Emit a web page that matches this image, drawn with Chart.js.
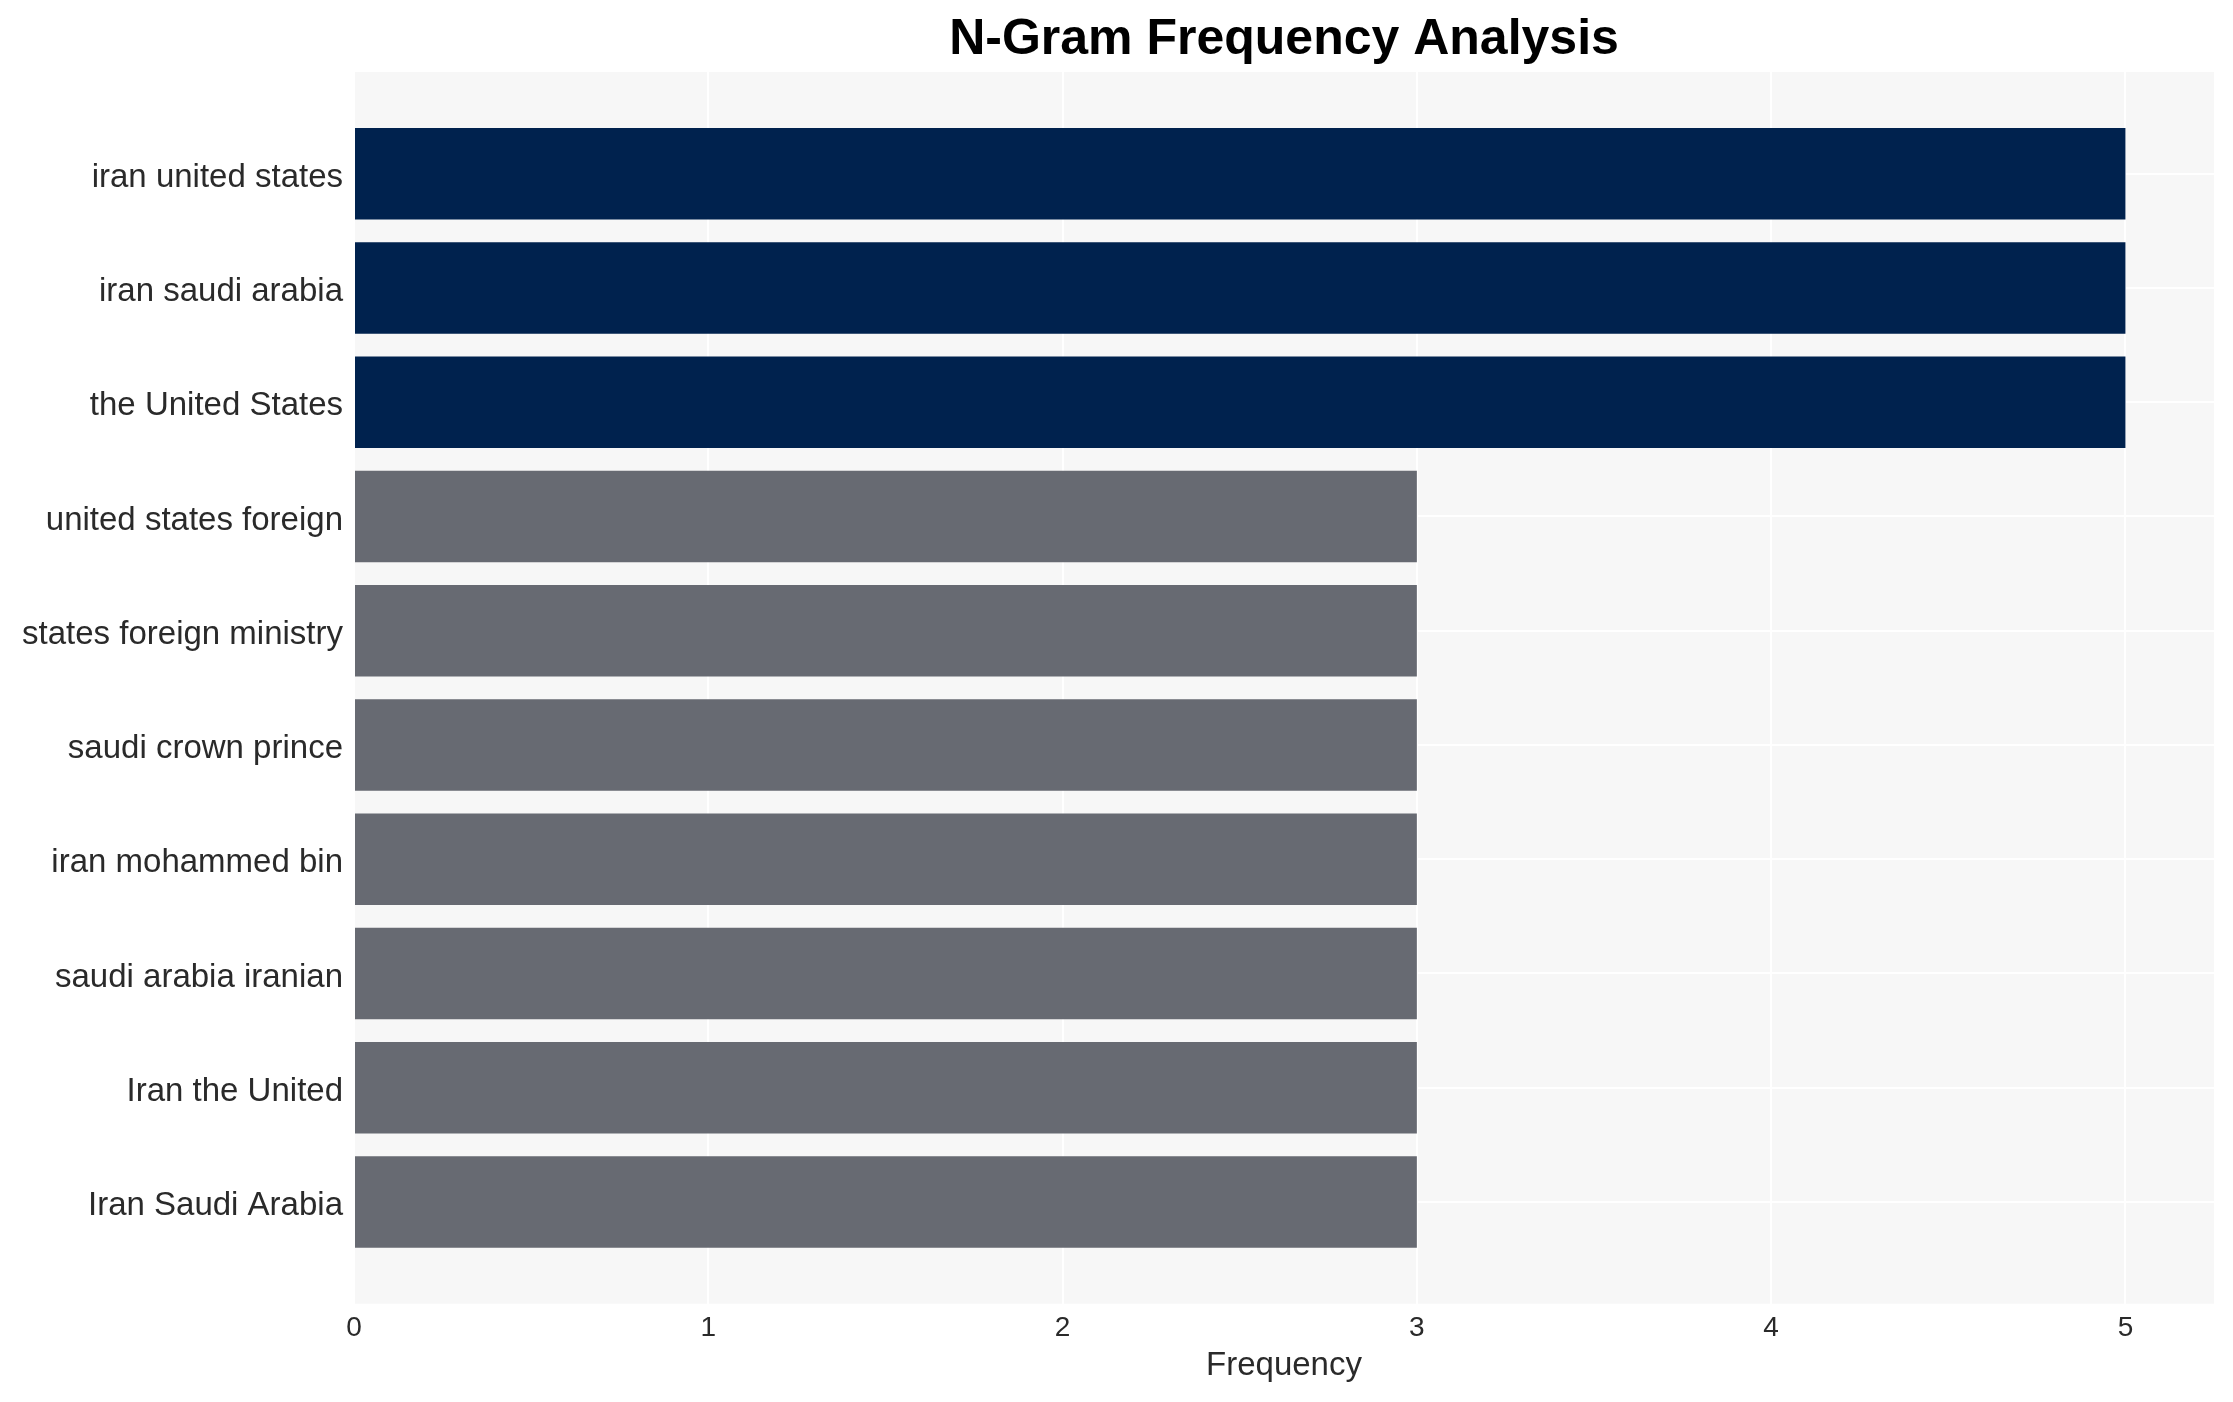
<!DOCTYPE html>
<html>
<head>
<meta charset="utf-8">
<script src="https://cdn.jsdelivr.net/npm/chart.js@4/dist/chart.umd.min.js"></script>
<style>
  html, body { margin: 0; padding: 0; background: #ffffff; }
  #wrap { width: 2233px; height: 1402px; }
  canvas { display: block; }
</style>
</head>
<body>
<div id="wrap"><canvas id="c" width="2233" height="1402"></canvas></div>
<script>
const categories = [
  "iran united states",
  "iran saudi arabia",
  "the United States",
  "united states foreign",
  "states foreign ministry",
  "saudi crown prince",
  "iran mohammed bin",
  "saudi arabia iranian",
  "Iran the United",
  "Iran Saudi Arabia"
];
const frequencies = [5, 5, 5, 3, 3, 3, 3, 3, 3, 3];
const xTickValues = [0, 1, 2, 3, 4, 5];

const FONT = "'Liberation Sans', Arial, Helvetica, sans-serif";
const NAVY = "#00224e";
const GRAY = "#676a72";
const maxFreq = Math.max(...frequencies);

const plotBg = {
  id: 'plotBg',
  beforeDraw(chart) {
    const {ctx, chartArea: a} = chart;
    ctx.save();
    ctx.fillStyle = '#f7f7f7';
    ctx.fillRect(a.left, a.top, a.right - a.left, a.bottom - a.top);
    ctx.restore();
  }
};

new Chart(document.getElementById('c'), {
  type: 'bar',
  data: {
    datasets: [{
      data: categories.map((c, i) => ({ x: frequencies[i], y: i })),
      backgroundColor: ctx => (ctx.raw && ctx.raw.x === maxFreq) ? NAVY : GRAY,
      borderWidth: 0,
      barPercentage: 0.8,
      categoryPercentage: 1.0
    }]
  },
  options: {
    indexAxis: 'y',
    responsive: false,
    devicePixelRatio: 1,
    animation: false,
    layout: { padding: { left: 0, right: 19, top: 0, bottom: 0 } },
    plugins: {
      legend: { display: false },
      tooltip: { enabled: false },
      title: {
        display: true,
        fullSize: false,
        text: 'N-Gram Frequency Analysis',
        color: '#000000',
        font: { family: FONT, size: 50, weight: 'bold', lineHeight: 1.2 },
        padding: { top: 10, bottom: 2 }
      }
    },
    scales: {
      x: {
        type: 'linear',
        position: 'bottom',
        min: 0,
        max: 5.25,
        offset: false,
        ticks: {
          stepSize: 1,
          color: '#2a2a2a',
          font: { family: FONT, size: 28 },
          padding: 8,
          maxRotation: 0
        },
        afterBuildTicks(scale) {
          scale.ticks = xTickValues.map(v => ({ value: v }));
        },
        afterFit(scale) { scale.height = 98.3; },
        grid: { color: '#ffffff', lineWidth: 2, drawTicks: false, offset: false },
        border: { display: false },
        title: {
          display: true,
          text: 'Frequency',
          color: '#2a2a2a',
          font: { family: FONT, size: 33, lineHeight: 1.2 },
          padding: { top: 0, bottom: 16 }
        }
      },
      y: {
        type: 'linear',
        reverse: true,
        offset: false,
        min: -0.89,
        max: categories.length - 1 + 0.89,
        afterBuildTicks(scale) {
          scale.ticks = categories.map((c, i) => ({ value: i }));
        },
        afterFit(scale) { scale.width = 354; },
        ticks: {
          color: '#2a2a2a',
          font: { family: FONT, size: 33 },
          padding: 11,
          labelOffset: 4,
          callback: v => categories[v]
        },
        grid: { color: '#ffffff', lineWidth: 2, drawTicks: false, offset: false },
        border: { display: false }
      }
    }
  },
  plugins: [plotBg]
});
</script>
</body>
</html>
